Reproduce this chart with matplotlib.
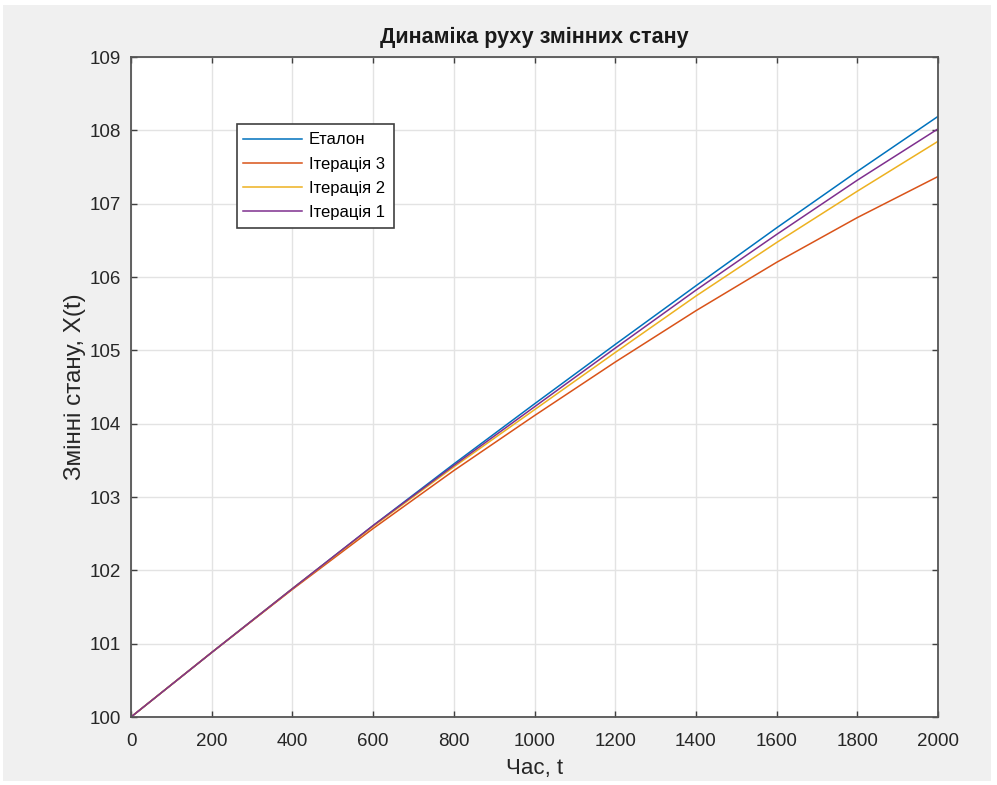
import matplotlib
matplotlib.use("Agg")
import matplotlib.pyplot as plt
from matplotlib.patches import Rectangle

plt.rcParams['font.family'] = ['Liberation Sans', 'DejaVu Sans']

t = [0, 200, 400, 600, 800, 1000, 1200, 1400, 1600, 1800, 2000]
etalon = [100.0, 100.88, 101.75, 102.61, 103.45, 104.27, 105.08, 105.88, 106.67, 107.44, 108.19]
iter3 = [100.0, 100.88, 101.74, 102.57, 103.36, 104.11, 104.84, 105.54, 106.20, 106.81, 107.37]
iter2 = [100.0, 100.88, 101.75, 102.60, 103.41, 104.19, 104.97, 105.74, 106.47, 107.17, 107.85]
iter1 = [100.0, 100.88, 101.75, 102.61, 103.43, 104.23, 105.03, 105.82, 106.58, 107.32, 108.02]

series = [etalon, iter3, iter2, iter1]
labels = ['Еталон', 'Ітерація 3', 'Ітерація 2', 'Ітерація 1']
colors = ['#0072BD', '#D95319', '#EDB120', '#7E2F8E']

xticks = list(range(0, 2001, 200))
yticks = list(range(100, 110))

fig = plt.figure(figsize=(9.97, 7.85), dpi=100)
fig.patch.set_facecolor('white')
fig.patches.append(Rectangle((3/997, 4/785), 988/997, 776/785, transform=fig.transFigure,
                             facecolor='#f0f0f0', edgecolor='none', zorder=-10))

ax = fig.add_axes([131/997, 1-717/785, (938-131)/997, (717-57)/785])
ax.set_facecolor('white')

for s, lab, c in zip(series, labels, colors):
    ax.plot(t, s, color=c, lw=1.1, label=lab)

ax.set_xlim(0, 2000)
ax.set_ylim(100, 109)
ax.set_xticks(xticks)
ax.set_yticks(yticks)
ax.grid(True, color='#e3e3e3', lw=1.0)
ax.set_axisbelow(True)
ax.tick_params(direction='in', length=4.5, width=1.0, color='#404040',
               top=True, right=True, labelsize=13.5, labelcolor='#262626')
ax.tick_params(axis='x', pad=11.5)
ax.tick_params(axis='y', pad=7)
for sp in ax.spines.values():
    sp.set_color('#555555')
    sp.set_linewidth(1.3)

ax.set_xlabel('Час, t', fontsize=16, color='#262626', labelpad=6)
ax.set_ylabel('Змінні стану, X(t)', fontsize=17.5, color='#262626', labelpad=3)
ax.set_title('Динаміка руху змінних стану', fontsize=15.5, fontweight='bold', color='#1a1a1a', pad=10)

# legend frame
x0 = (237.3 - 131) / 807
x1 = (394.3 - 131) / 807
y0 = (717 - 227.7) / 660
y1 = (717 - 124.3) / 660
ax.add_patch(Rectangle((x0, y0), x1 - x0, y1 - y0, transform=ax.transAxes,
                       facecolor='white', edgecolor='#404040', lw=1.2, zorder=5))
leg = ax.legend(loc='upper left', bbox_to_anchor=((242.7 - 131) / 807, (717 - 132.5) / 660),
                borderaxespad=0, fontsize=12, frameon=False,
                handlelength=3.55, handletextpad=0.4, labelspacing=0.55, borderpad=0)
leg.set_zorder(6)

fig.savefig('out.png', dpi=100, facecolor=fig.get_facecolor())
